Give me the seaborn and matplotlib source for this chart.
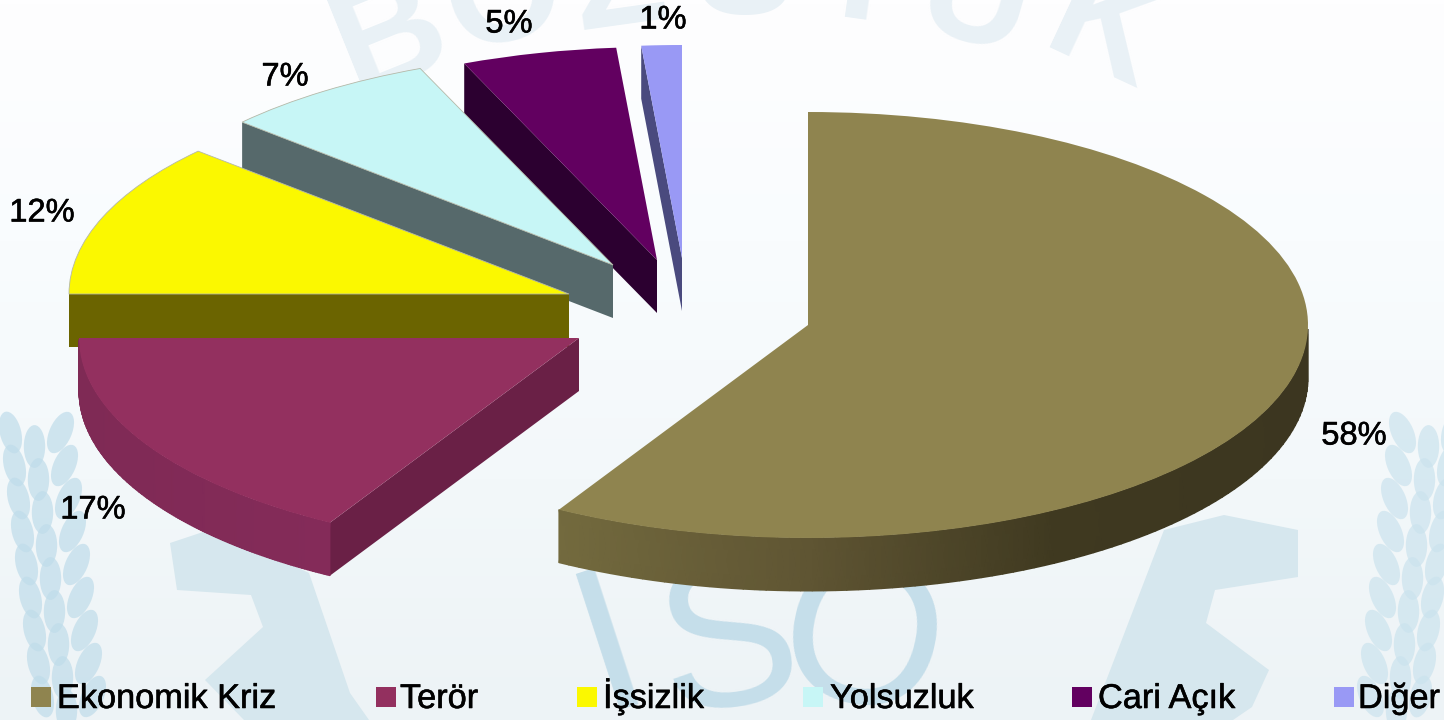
import numpy as np
import matplotlib
matplotlib.use("Agg")
import matplotlib.pyplot as plt
import matplotlib.patheffects as pe
from matplotlib.path import Path
from matplotlib.transforms import Affine2D
import seaborn as sns

# Chart data
categories = ["Ekonomik Kriz", "Terör", "İşsizlik", "Yolsuzluk", "Cari Açık", "Diğer"]
shares = [58.3, 16.7, 11.7, 7.0, 5.0, 1.3]

top_colors = ["#8f844f", "#93305f", "#fbf800", "#c7f6f6", "#620060", "#9999f5"]
cut_colors = ["#5a5030", "#6a2046", "#6b6400", "#56696b", "#2c0030", "#4a4a7e"]
rim_colors = [["#736a3e", "#5f5533", "#3f3920", "#3c3620"], ["#7f2a55", "#842b59"],
              ["#6b6400"] * 2, ["#56696b"] * 2, ["#2c0030"] * 2, ["#4a4a7e"] * 2]

# Layout, all in image pixels
SQUASH = 213 / 500
RADIUS = 500
DEPTH = 53
centers = [(808, 325), (579, 338), (569, 294), (613, 265), (657, 260), (682, 258)]
pct_pos = [(1354, 436), (93, 510), (42, 213), (285, 77), (509, 24), (663, 20)]
legend_box_x = [41, 386, 587, 813, 1082, 1344]
legend_text_x = [57, 400, 603, 830, 1098, 1358]


def ypx(y):
    return -np.asarray(y, dtype=float) / SQUASH


sns.set_theme(style="white")
plt.rcParams["font.family"] = ["Liberation Sans", "DejaVu Sans"]

fig = plt.figure(figsize=(14.44, 7.2), dpi=100)
ax = fig.add_axes([0, 0, 1, 1])

# the pie itself: one ellipse, slices pulled apart afterwards
wedges, _ = ax.pie(shares, colors=top_colors, startangle=90, counterclock=False,
                   radius=RADIUS, frame=False)

ax.set_aspect("auto")
ax.set_axis_off()

# background gradient
grad = sns.blend_palette(["#fefeff", "#f9fcfe", "#f3f8fa", "#edf3f6"], as_cmap=True)
ax.imshow(np.linspace(0, 1, 200).reshape(-1, 1), cmap=grad, aspect="auto",
          extent=(0, 1444, ypx(720), 0), zorder=0)
ax.set_xlim(0, 1444)
ax.set_ylim(ypx(720), 0)

# watermark: gear teeth, lettering, wheat
gear_left = [(170, 543), (215, 528), (309, 573), (350, 693), (369, 720), (244, 720),
             (205, 680), (263, 627), (251, 595), (177, 590)]
gear_right = [(1164, 530), (1224, 515), (1298, 530), (1298, 577), (1215, 590), (1206, 623),
              (1269, 670), (1252, 707), (1233, 720), (1091, 720)]
for poly in (gear_left, gear_right):
    xs, ys = zip(*poly)
    ax.fill(xs, ypx(ys), color="#d6e7ee", lw=0, zorder=1)

for ch, x, y, rot in zip("BOZSTUK", [392, 505, 620, 745, 860, 975, 1105],
                         [40, 0, -15, -25, -20, 5, 35], [22, 14, 8, 0, -8, -16, -25]):
    ax.text(x, ypx(y), ch, fontsize=108, color="#e9f1f6", rotation=rot, ha="center",
            va="center", fontweight="bold", zorder=1, clip_on=True)
for ch, x, y, rot in zip("ISO", [612, 730, 860], [650, 650, 650], [18, 8, -12]):
    ax.text(x, ypx(y), ch, fontsize=150, color="#c5deea", rotation=rot, ha="center",
            va="center", zorder=1, clip_on=True)


def leaf(tilt):
    return Path.unit_circle().transformed(Affine2D().scale(0.5, 1).rotate_deg(tilt))


for i, y in enumerate(np.arange(432, 720, 33)):
    drift = (y - 432) * 0.12
    for dx, tilt in ((-24, 14), (0, 0), (26, -24)):
        ax.scatter(34 + drift + dx, ypx(y + 14 * (dx == 0)), s=950, marker=leaf(tilt),
                   color="#bfdcea", alpha=0.7, lw=0, zorder=1)
        ax.scatter(1428 - drift - dx, ypx(y + 14 * (dx == 0)), s=950, marker=leaf(-tilt),
                   color="#cbe3ee", alpha=0.7, lw=0, zorder=1)

# slices, back to front
draw_order = [5, 4, 3, 2, 1, 0]
for z, i in enumerate(draw_order):
    w = wedges[i]
    cx, cy_px = centers[i]
    cy = ypx(cy_px)
    w.set_center((cx, cy))
    base = 3 + z * 3
    w.set_zorder(base + 2)
    if i in (2, 3):
        w.set_edgecolor("#b4b8a8")
        w.set_linewidth(0.6)
    else:
        w.set_linewidth(0)
    drop = DEPTH / SQUASH

    # straight cut face, only the one turned towards the viewer
    t = np.deg2rad(w.theta2)
    if np.sin(t + np.pi / 2) < 0:
        rx, ry = cx + RADIUS * np.cos(t), cy + RADIUS * np.sin(t)
        ax.fill([cx, rx, rx, cx], [cy, ry, ry - drop, cy - drop],
                color=cut_colors[i], lw=0, zorder=base)

    # outer rim, lower half of the ellipse only
    angles = np.deg2rad(np.linspace(w.theta1, w.theta2, 160))
    angles = angles[np.sin(angles) < 0]
    if len(angles) > 1:
        ax_x = cx + RADIUS * np.cos(angles)
        ax_y = cy + RADIUS * np.sin(angles)
        rim = sns.blend_palette(rim_colors[i], as_cmap=True)
        ax.pcolormesh(np.vstack([ax_x, ax_x]), np.vstack([ax_y, ax_y - drop]),
                      np.vstack([ax_x, ax_x]), cmap=rim, shading="gouraud",
                      zorder=base + 1)

stroke = [pe.withStroke(linewidth=0.4, foreground="black")]

# percentage labels
for share, (x, y) in zip(shares, pct_pos):
    ax.text(x, ypx(y), f"{share:.0f}%", fontsize=23.5, color="black", ha="center",
            va="center", zorder=40, path_effects=stroke)

# legend row
for name, color, bx, tx in zip(categories, top_colors, legend_box_x, legend_text_x):
    ax.scatter(bx, ypx(697), s=210, marker="s", color=color, lw=0, zorder=40)
    ax.text(tx, ypx(708), name, fontsize=24.7, color="black", ha="left", va="baseline",
            zorder=40, path_effects=stroke)

fig.savefig("out.png", dpi=100)
